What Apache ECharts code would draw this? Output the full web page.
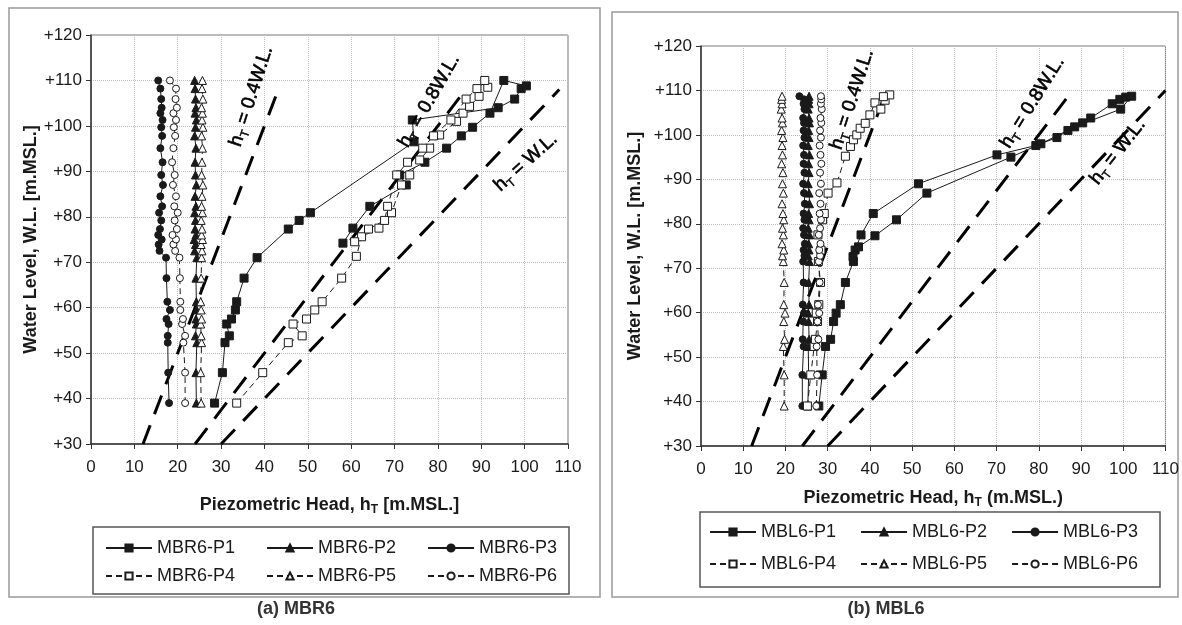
<!DOCTYPE html>
<html>
<head>
<meta charset="utf-8">
<script src="https://cdn.jsdelivr.net/npm/echarts@6/dist/echarts.min.js"></script>
<style>html,body{margin:0;padding:0;background:#fff}#c{width:1182px;height:625px}</style>
</head>
<body>
<div id="c"></div>
<script>
// ---------- DATA: (a) MBR6 ----------
const WL_L = [39.0, 45.7, 52.3, 53.8, 56.4, 57.5, 59.5, 61.3, 66.5, 71.0, 72.5, 73.9, 75.0, 76.0, 77.3, 79.2, 80.9, 82.3, 84.5, 87.0, 89.2, 92.0, 95.1, 97.8, 99.7, 101.3, 102.8, 104.0, 105.9, 108.2, 110.0];
const MBR6_P2 = [24.3, 24.2, 24.4, 24.1, 24.3, 24.2, 24.4, 24.3, 24.2, 24.4, 23.9, 24.1, 23.8, 24.2, 24.0, 24.1, 23.9, 24.2, 24.0, 24.3, 24.1, 24.0, 24.2, 23.9, 24.1, 24.3, 24.0, 24.2, 24.1, 24.0, 23.9];
const MBR6_P3 = [18.0, 17.8, 17.7, 17.7, 17.9, 17.4, 18.2, 17.6, 17.4, 17.3, 15.8, 15.6, 16.3, 15.5, 15.9, 16.2, 15.7, 16.4, 16.0, 16.6, 16.2, 16.5, 16.0, 16.4, 16.2, 16.5, 16.0, 16.3, 16.2, 16.0, 15.5];
const MBR6_P5 = [25.4, 25.3, 25.5, 25.4, 25.3, 25.5, 25.4, 25.3, 25.4, 25.5, 25.6, 25.4, 25.7, 25.5, 25.6, 25.4, 25.7, 25.5, 25.6, 25.8, 25.5, 25.6, 25.7, 25.5, 25.8, 25.6, 25.7, 25.5, 25.8, 25.6, 25.7];
const MBR6_P6 = [21.7, 21.7, 21.3, 21.7, 21.0, 21.2, 20.6, 20.6, 20.5, 20.4, 19.4, 19.0, 19.6, 18.8, 19.8, 19.3, 20.0, 19.2, 19.6, 18.9, 19.3, 18.7, 19.0, 19.4, 19.1, 19.6, 19.0, 19.8, 19.5, 19.6, 18.2];
const MBR6_P1 = [[28.5,39.0],[30.3,45.7],[30.9,52.3],[31.9,53.8],[31.3,56.4],[32.4,57.5],[33.3,59.5],[33.6,61.3],[35.3,66.5],[38.3,71.0],[45.5,77.3],[48.0,79.2],[50.6,80.9],[74.5,96.5],[74.1,101.3],[93.9,104.0],[97.7,105.9],[99.2,108.2],[100.4,108.8],[95.2,110.0],[92.0,102.8],[88.0,99.7],[85.4,97.8],[82.0,95.1],[77.0,92.0],[71.2,89.2],[72.7,87.0],[64.3,82.3],[60.4,77.5],[58.1,74.2]];
const MBR6_P4 = [[33.6,39.0],[39.6,45.7],[45.5,52.3],[48.7,53.8],[46.6,56.4],[49.7,57.5],[51.6,59.5],[53.3,61.3],[57.8,66.5],[61.2,71.3],[62.4,75.6],[66.4,77.5],[69.3,80.9],[71.6,87.0],[73.5,89.2],[75.8,92.5],[78.1,95.1],[80.4,98.0],[84.3,101.0],[85.8,102.8],[87.3,104.3],[89.5,106.5],[91.5,108.5],[90.8,110.0],[89.0,108.2],[86.5,105.9],[83.0,101.3],[79.0,97.8],[76.5,95.1],[73.0,92.0],[70.5,89.2],[68.4,82.3],[67.7,79.2],[64.0,77.3],[60.8,74.5]];

// ---------- DATA: (b) MBL6 ----------
const WL_R = [39.0, 46.0, 52.4, 54.0, 58.0, 59.9, 61.8, 66.8, 71.5, 72.8, 74.1, 75.5, 77.5, 79.0, 80.9, 82.3, 84.5, 86.9, 89.0, 91.5, 93.5, 95.5, 97.6, 99.4, 101.0, 102.7, 103.8, 105.8, 107.0, 108.0, 108.7];
const MBL6_P2 = [25.3, 25.5, 25.4, 25.6, 25.5, 25.4, 25.6, 25.5, 25.7, 25.4, 25.6, 25.5, 25.7, 25.4, 25.6, 25.5, 25.7, 25.6, 25.4, 25.6, 25.5, 25.7, 25.4, 25.6, 25.5, 25.7, 25.6, 25.4, 25.6, 25.5, 25.6];
const MBL6_P3 = [24.0, 24.0, 24.3, 24.1, 24.2, 24.4, 24.1, 24.3, 24.2, 24.5, 24.3, 24.6, 24.4, 24.2, 24.5, 24.3, 24.6, 24.4, 24.2, 24.5, 24.3, 24.4, 24.2, 24.5, 24.3, 24.4, 24.2, 24.5, 24.3, 24.4, 23.3];
const MBL6_P5 = [19.7, 19.7, 19.5, 19.8, 19.6, 19.9, 19.6, 19.7, 19.5, 19.3, 19.6, 19.2, 19.5, 19.3, 19.6, 19.4, 19.2, 19.5, 19.3, 19.4, 19.1, 19.3, 19.2, 19.4, 19.1, 19.3, 19.2, 19.0, 19.2, 19.1, 19.2];
const MBL6_P6 = [27.3, 27.5, 27.4, 27.8, 27.6, 28.0, 27.7, 28.1, 27.9, 28.2, 28.0, 28.3, 27.9, 28.2, 28.4, 28.1, 28.3, 28.0, 28.4, 28.2, 28.5, 28.3, 28.1, 28.4, 28.2, 28.5, 28.3, 28.6, 28.4, 28.5, 28.4];
const MBL6_P1 = [[27.9,39.0],[28.7,46.0],[29.5,52.4],[30.7,54.0],[31.4,58.0],[32.0,59.9],[33.0,61.8],[34.2,66.8],[36.1,71.5],[36.5,74.1],[37.9,77.5],[40.8,82.3],[51.5,89.0],[70.1,95.5],[79.3,97.6],[84.3,99.4],[86.9,101.0],[90.4,102.7],[92.3,103.8],[97.4,107.0],[99.2,108.0],[100.6,108.5],[102.0,108.7],[99.4,105.8],[88.5,101.8],[80.5,98.0],[73.4,95.0],[53.5,86.9],[46.3,80.9],[41.2,77.3],[37.3,74.8],[36.0,72.6]];
const MBL6_P4 = [[25.2,39.0],[26.0,46.0],[26.8,52.4],[27.1,54.0],[27.6,58.0],[27.3,59.9],[27.9,61.8],[28.3,66.8],[27.8,71.5],[28.4,74.1],[27.7,77.5],[28.8,80.9],[29.2,82.3],[30.1,86.9],[32.2,89.2],[34.2,95.2],[35.4,97.4],[36.1,98.9],[36.9,100.0],[37.7,101.5],[38.9,102.6],[40.0,104.5],[41.2,107.2],[42.6,105.8],[43.6,107.8],[44.7,109.0],[43.2,108.6]];

// reference lines h_T = k * W.L. (end points)
const REF_L = { k04: [[12.0,30],[43.2,108]], k08: [[24.0,30],[86.4,108]], k10: [[30.0,30],[108.0,108]] };
const REF_R = { k04: [[12.0,30],[44.0,110]], k08: [[24.0,30],[88.0,110]], k10: [[30.0,30],[110.0,110]] };
// annotation anchors [h, WL], text, rotation (deg)
const LBL_L = [[[37.0,106.5], '0.4W.L.', 72], [[78.0,105.5], '0.8W.L.', 60], [[100.3,92.0], 'W.L.', 42]];
const LBL_R = [[[35.8,108.0], '0.4W.L.', 72], [[78.5,107.3], '0.8W.L.', 58], [[98.7,96.2], 'W.L.', 52]];

const X_TICKS = { min: 0, max: 110, step: 10 };
const Y_TICKS = { min: 30, max: 120, step: 10 };

// ---------- BUILD ----------
const FONT = 'Liberation Sans, Arial, Helvetica, sans-serif';
const INK = '#1a1a1a';
const zip = (h, wl) => h.map((v, i) => [v, wl[i]]);

function pSeries(name, data, gi, sym, filled, dashed, size) {
  return {
    name, type: 'line', data, xAxisIndex: gi, yAxisIndex: gi,
    symbol: sym, symbolSize: size, showSymbol: true, z: 3,
    lineStyle: { color: INK, width: 1, type: dashed ? [6, 4] : 'solid' },
    itemStyle: { color: filled ? INK : '#fff', borderColor: INK, borderWidth: 1 },
    emphasis: { disabled: true }, animation: false
  };
}
function refSeries(data, gi) {
  return {
    type: 'line', data, xAxisIndex: gi, yAxisIndex: gi, symbol: 'none', z: 2, silent: true,
    lineStyle: { color: '#000', width: 3, type: [20, 12] }, animation: false
  };
}
function xAxis(gi, name, gap) {
  return {
    type: 'value', gridIndex: gi, min: X_TICKS.min, max: X_TICKS.max, interval: X_TICKS.step,
    name, nameLocation: 'middle', nameGap: gap,
    nameTextStyle: { fontSize: 18, fontWeight: 'bold', fontFamily: FONT, color: INK,
      rich: { b: { fontSize: 18, fontWeight: 'bold', fontFamily: FONT, color: INK, lineHeight: 22, verticalAlign: 'middle' },
              s: { fontSize: 12, fontWeight: 'bold', fontFamily: FONT, color: INK, verticalAlign: 'bottom' } } },
    axisLine: { show: true, lineStyle: { color: '#333', width: 1.5 } },
    axisTick: { show: true, length: 5, lineStyle: { color: '#333' } },
    axisLabel: { fontSize: 17, fontFamily: FONT, color: INK, margin: 15 },
    splitLine: { show: true, lineStyle: { color: '#bdbdbd', type: 'dotted', width: 1 } }
  };
}
function yAxis(gi, gap) {
  return {
    type: 'value', gridIndex: gi, min: Y_TICKS.min, max: Y_TICKS.max, interval: Y_TICKS.step,
    name: 'Water Level, W.L. [m.MSL.]', nameLocation: 'middle', nameGap: gap,
    nameTextStyle: { fontSize: 18, fontWeight: 'bold', fontFamily: FONT, color: INK },
    axisLine: { show: true, lineStyle: { color: '#333', width: 1.5 } },
    axisTick: { show: true, length: 5, lineStyle: { color: '#333' } },
    axisLabel: { fontSize: 17, fontFamily: FONT, color: INK, margin: 9, formatter: v => '+' + v },
    splitLine: { show: true, lineStyle: { color: '#bdbdbd', type: 'dotted', width: 1 } }
  };
}
function legend(names, left, top, gap) {
  return {
    data: names, left, top, itemGap: gap, padding: 0, itemWidth: 46, itemHeight: 9,
    selectedMode: false, textStyle: { fontSize: 18, fontFamily: FONT, color: INK }
  };
}

const chart = echarts.init(document.getElementById('c'), null, { renderer: 'canvas' });
const staticGraphics = [
  { type: 'rect', shape: { x: 9, y: 8, width: 591, height: 589 }, style: { fill: 'none', stroke: '#999', lineWidth: 1.5 }, z: -1 },
  { type: 'rect', shape: { x: 612, y: 12, width: 566, height: 585 }, style: { fill: 'none', stroke: '#999', lineWidth: 1.5 }, z: -1 },
  { type: 'rect', shape: { x: 93, y: 527, width: 476, height: 67 }, style: { fill: 'none', stroke: '#555', lineWidth: 1.5 } },
  { type: 'rect', shape: { x: 700, y: 512, width: 460, height: 75 }, style: { fill: 'none', stroke: '#555', lineWidth: 1.5 } },
  { type: 'text', x: 296, y: 609, style: { text: '(a) MBR6', fill: '#333', font: 'bold 18px ' + FONT, textAlign: 'center', textVerticalAlign: 'middle' } },
  { type: 'text', x: 886, y: 609, style: { text: '(b) MBL6', fill: '#333', font: 'bold 18px ' + FONT, textAlign: 'center', textVerticalAlign: 'middle' } }
];
chart.setOption({
  backgroundColor: '#fff',
  animation: false,
  grid: [
    { left: 91, top: 35, width: 477, height: 409, show: true, borderColor: '#777', borderWidth: 1, backgroundColor: '#fff' },
    { left: 701, top: 46, width: 467, height: 400, show: true, borderColor: '#777', borderWidth: 1, backgroundColor: '#fff' }
  ],
  xAxis: [
    xAxis(0, '{b|Piezometric Head, h}{s|T}{b| [m.MSL.]}', 50),
    xAxis(1, '{b|Piezometric Head, h}{s|T}{b| (m.MSL.)}', 41)
  ],
  yAxis: [yAxis(0, 50), yAxis(1, 57)],
  legend: [
    legend(['MBR6-P1', 'MBR6-P2', 'MBR6-P3'], 105, 539, 31),
    legend(['MBR6-P4', 'MBR6-P5', 'MBR6-P6'], 105, 567, 31),
    legend(['MBL6-P1', 'MBL6-P2', 'MBL6-P3'], 709, 523, 24),
    legend(['MBL6-P4', 'MBL6-P5', 'MBL6-P6'], 709, 555, 24)
  ],
  graphic: staticGraphics,
  series: [
    refSeries(REF_L.k04, 0), refSeries(REF_L.k08, 0), refSeries(REF_L.k10, 0),
    pSeries('MBR6-P1', MBR6_P1, 0, 'rect', true, false, 8),
    pSeries('MBR6-P2', zip(MBR6_P2, WL_L), 0, 'triangle', true, false, 8),
    pSeries('MBR6-P3', zip(MBR6_P3, WL_L), 0, 'circle', true, false, 7),
    pSeries('MBR6-P4', MBR6_P4, 0, 'rect', false, true, 8),
    pSeries('MBR6-P5', zip(MBR6_P5, WL_L), 0, 'triangle', false, true, 8),
    pSeries('MBR6-P6', zip(MBR6_P6, WL_L), 0, 'circle', false, true, 7),
    refSeries(REF_R.k04, 1), refSeries(REF_R.k08, 1), refSeries(REF_R.k10, 1),
    pSeries('MBL6-P1', MBL6_P1, 1, 'rect', true, false, 8),
    pSeries('MBL6-P2', zip(MBL6_P2, WL_R), 1, 'triangle', true, false, 8),
    pSeries('MBL6-P3', zip(MBL6_P3, WL_R), 1, 'circle', true, false, 7),
    pSeries('MBL6-P4', MBL6_P4, 1, 'rect', false, true, 8),
    pSeries('MBL6-P5', zip(MBL6_P5, WL_R), 1, 'triangle', false, true, 8),
    pSeries('MBL6-P6', zip(MBL6_P6, WL_R), 1, 'circle', false, true, 7)
  ]
});

// rotated annotations placed through the axes' own scales
const annot = [];
[[LBL_L, 0], [LBL_R, 1]].forEach(([list, gi]) => {
  list.forEach(([pt, txt, rot]) => {
    const p = chart.convertToPixel({ gridIndex: gi }, pt);
    annot.push({
      type: 'text', x: p[0], y: p[1], rotation: rot * Math.PI / 180, z: 10,
      style: {
        text: '{b|h}{s|T}{b| = ' + txt + '}', align: 'center', verticalAlign: 'middle',
        rich: {
          b: { fontSize: 19, fontFamily: FONT, fill: '#000', stroke: '#000', lineWidth: 0.6, lineHeight: 24, verticalAlign: 'middle' },
          s: { fontSize: 12, fontFamily: FONT, fill: '#000', stroke: '#000', lineWidth: 0.4, verticalAlign: 'bottom' }
        }
      }
    });
  });
});
chart.setOption({ graphic: staticGraphics.concat(annot) });
</script>
</body>
</html>
